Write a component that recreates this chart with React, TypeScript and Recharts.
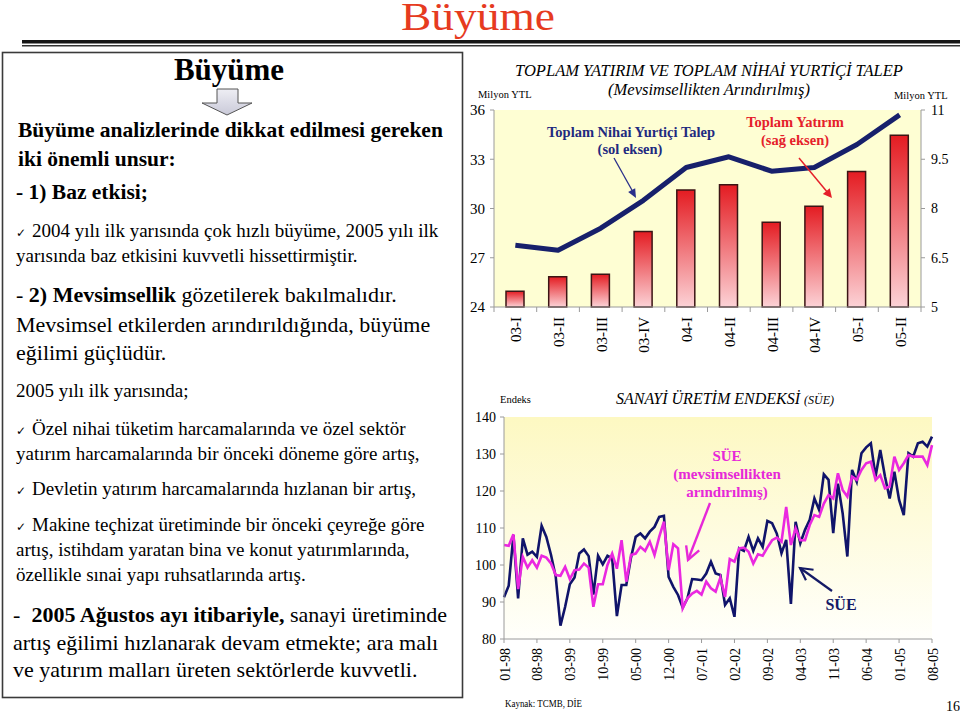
import React from 'react';
import { ComposedChart, LineChart, Bar, Line, XAxis, YAxis, CartesianGrid } from 'recharts';

const serif = "'Liberation Serif', 'Times New Roman', serif";

// üst grafik: çeyreklik veriler
const quarters = ['03-I', '03-II', '03-III', '03-IV', '04-I', '04-II', '04-III', '04-IV', '05-I', '05-II'];
const toplamYatirim = [5.48, 5.92, 6.0, 7.3, 8.56, 8.72, 7.58, 8.07, 9.13, 10.23]; // sağ eksen
const nihaiTalep = [27.76, 27.46, 28.8, 30.5, 32.5, 33.15, 32.27, 32.5, 33.9, 35.7]; // sol eksen
const leftTicks = [24, 27, 30, 33, 36];
const rightTicks = [5, 6.5, 8, 9.5, 11];

// alt grafik: aylık SÜE, 01-98 .. 08-05
const sueTicks = ['01-98', '08-98', '03-99', '10-99', '05-00', '12-00', '07-01', '02-02', '09-02', '04-03', '11-03', '06-04', '01-05', '08-05'];
const sue = [
  91.3, 94.4, 108.1, 91, 107.2, 102.8, 103.6, 102.2, 110.6, 107.6, 102.7, 96.8,
  83.6, 88.7, 94.8, 96.6, 103.1, 104.2, 102.4, 92, 102.5, 100.2, 102.5, 101.8,
  86.2, 94.6, 94.6, 102, 107.6, 108.5, 107.2, 109, 110.3, 113, 113.3, 96.8,
  94.1, 91.9, 88.5, 91, 96.2, 96.1, 95.9, 97.7, 100.9, 97.7, 97.3, 89.2,
  91, 86, 104.5, 103.8, 107.6, 103.8, 107.2, 104.9, 111.9, 111.3, 108.5, 103.2,
  106.8, 89.5, 111.7, 105.9, 109.5, 112.2, 118, 114.9, 124.5, 123, 108.6, 122,
  114, 102.3, 125.7, 122.5, 130.2, 131.8, 132.9, 123.9, 131.1, 123.9, 118, 125.2,
  117.6, 113.5, 130.2, 129.3, 132.9, 133.3, 132, 134.7,
];
const sueMevsim = [
  105.4, 105.2, 108.3, 93.5, 102.2, 99.3, 101.3, 99.3, 102.5, 102, 100.4, 97.3,
  97.1, 99.5, 96.2, 98.6, 98.8, 100.4, 99.3, 88.7, 94.8, 94.8, 100, 103.1,
  99, 106.7, 95.5, 102.7, 103.1, 104.9, 103.8, 106.3, 102.7, 107.6, 111.7, 98.6,
  105.6, 104.5, 88.3, 91, 92.3, 93, 92, 95.5, 93.7, 92.8, 96.6, 91.4,
  101.6, 100.9, 104.5, 104.7, 103.6, 100.4, 102.9, 102.5, 104.7, 106.7, 107.4, 106.3,
  115.7, 105.4, 109.9, 106.7, 106.7, 110.8, 113.5, 113, 116.6, 118.9, 118, 124.8,
  120.3, 118.5, 123.9, 123, 125.7, 127.5, 127.9, 123, 124.3, 120.7, 121.2, 129.3,
  125.7, 127.5, 129.7, 129.3, 129.3, 129.3, 127, 132.4,
];
const sueY = [80, 90, 100, 110, 120, 130, 140];

const months: string[] = [];
for (let y = 1998; y <= 2005; y++) {
  for (let m = 1; m <= 12; m++) {
    if (y === 2005 && m > 8) break;
    months.push(`${String(m).padStart(2, '0')}-${String(y % 100).padStart(2, '0')}`);
  }
}

const qData = quarters.map((q, i) => ({ q, yatirim: toplamYatirim[i], talep: nihaiTalep[i] }));
const mData = months.map((m, i) => ({ m, sue: sue[i], sueMa: sueMevsim[i] }));

const TOP_PLOT_W = 427;
const BAND = TOP_PLOT_W / quarters.length;
const axisGray = '#9a9a9a';

const QuarterTick = (props: any) => {
  const { x, y, payload, index } = props;
  return (
    <g>
      {index === 0 && <line x1={x - BAND / 2} y1={y} x2={x - BAND / 2} y2={y + 5} stroke={axisGray} />}
      <line x1={x + BAND / 2} y1={y} x2={x + BAND / 2} y2={y + 5} stroke={axisGray} />
      <text transform={`translate(${x + 1},${y + 10}) rotate(-90)`} textAnchor="end" dominantBaseline="central"
        fontSize={15} fontFamily={serif} fill="#000">{payload.value}</text>
    </g>
  );
};

const MonthTick = (props: any) => {
  const { x, y, payload } = props;
  return (
    <text transform={`translate(${x + 1},${y}) rotate(-90)`} textAnchor="end" dominantBaseline="central"
      fontSize={14} fontFamily={serif} fill="#000">{payload.value}</text>
  );
};

const headPts = (x1: number, y1: number, x2: number, y2: number, len: number, w: number) => {
  const dx = x2 - x1, dy = y2 - y1, d = Math.hypot(dx, dy);
  const ux = dx / d, uy = dy / d;
  const bx = x2 - ux * len, by = y2 - uy * len;
  return `${bx - uy * w},${by + ux * w} ${x2},${y2} ${bx + uy * w},${by - ux * w}`;
};

const check = (x: number, y: number) => (
  <text x={x} y={y} fontSize={12} fontFamily="'DejaVu Sans', sans-serif" fill="#000">✓</text>
);

const LeftPanel = () => (
  <svg width={470} height={717} style={{ position: 'absolute', left: 0, top: 0 }}>
    <defs>
      <linearGradient id="blockArrow" x1="0" y1="0" x2="0" y2="1">
        <stop offset="0%" stopColor="#eeeef4" />
        <stop offset="100%" stopColor="#c9c9d8" />
      </linearGradient>
    </defs>
    <rect x={2.5} y={52.5} width={460} height={645} fill="none" stroke="#3a3a3a" strokeWidth={1.6} />
    <text x={229} y={80} textAnchor="middle" fontSize={31} fontWeight="bold" fontFamily={serif}>Büyüme</text>
    <polygon points="217,89 238,89 238,103 252,103 227,115 202,103 217,103" fill="url(#blockArrow)" stroke="#555" strokeWidth={1} />
    <g fontFamily={serif} fill="#000">
      <text x={18} y={137} fontSize={21.5} fontWeight="bold">Büyüme analizlerinde dikkat edilmesi gereken</text>
      <text x={18} y={165.5} fontSize={21.5} fontWeight="bold">iki önemli unsur:</text>
      <text x={16} y={199} fontSize={21.5} fontWeight="bold">- 1) Baz etkisi;</text>
      {check(16, 236.5)}
      <text x={32} y={236.5} fontSize={19}>2004 yılı ilk yarısında çok hızlı büyüme, 2005 yılı ilk</text>
      <text x={16} y={261.5} fontSize={19}>yarısında baz etkisini kuvvetli hissettirmiştir.</text>
      <text x={16} y={301.5} fontSize={22}>- <tspan fontWeight="bold">2) Mevsimsellik</tspan> gözetilerek bakılmalıdır.</text>
      <text x={16} y={331.5} fontSize={22}>Mevsimsel etkilerden arındırıldığında, büyüme</text>
      <text x={16} y={360} fontSize={22}>eğilimi güçlüdür.</text>
      <text x={16} y={396.5} fontSize={19}>2005 yılı ilk yarısında;</text>
      {check(16, 434.5)}
      <text x={32} y={434.5} fontSize={19}>Özel nihai tüketim harcamalarında ve özel sektör</text>
      <text x={16} y={459.5} fontSize={19}>yatırım harcamalarında bir önceki döneme göre artış,</text>
      {check(16, 495)}
      <text x={32} y={495} fontSize={19}>Devletin yatırım harcamalarında hızlanan bir artış,</text>
      {check(16, 531)}
      <text x={32} y={531} fontSize={19}>Makine teçhizat üretiminde bir önceki çeyreğe göre</text>
      <text x={16} y={556} fontSize={19}>artış, istihdam yaratan bina ve konut yatırımlarında,</text>
      <text x={16} y={581} fontSize={19}>özellikle sınai yapı ruhsatlarında artış.</text>
      <text x={13} y={622} fontSize={22}>-</text>
      <text x={31.5} y={622} fontSize={22}><tspan fontWeight="bold">2005 Ağustos ayı itibariyle,</tspan> sanayi üretiminde</text>
      <text x={13} y={650} fontSize={22}>artış eğilimi hızlanarak devam etmekte; ara malı</text>
      <text x={13} y={677} fontSize={22}>ve yatırım malları üreten sektörlerde kuvvetli.</text>
    </g>
  </svg>
);

const Overlay = () => (
  <svg width={960} height={717} style={{ position: 'absolute', left: 0, top: 0, pointerEvents: 'none' }}>
    <text x={401} y={30} fontSize={39} textLength={154} lengthAdjust="spacingAndGlyphs" fontFamily={serif} fill="#e63b1f">Büyüme</text>
    <rect x={22} y={40} width={938} height={3.5} fill="#151515" />
    <rect x={22} y={45} width={938} height={1.5} fill="#333" />

    <g fontFamily={serif}>
      <text x={709} y={76} textAnchor="middle" fontSize={16.5} fontStyle="italic">TOPLAM YATIRIM VE TOPLAM NİHAİ YURTİÇİ TALEP</text>
      <text x={709} y={95} textAnchor="middle" fontSize={16.5} fontStyle="italic">(Mevsimsellikten Arındırılmış)</text>
      <text x={478} y={98} fontSize={10.5}>Milyon YTL</text>
      <text x={894} y={99} fontSize={10.5}>Milyon YTL</text>
      <text x={631} y={136.5} textAnchor="middle" fontSize={14.5} fontWeight="bold" fill="#1f2a80">Toplam Nihai Yurtiçi Talep</text>
      <text x={630} y={154} textAnchor="middle" fontSize={14.5} fontWeight="bold" fill="#1f2a80">(sol eksen)</text>
      <text x={795} y={126.5} textAnchor="middle" fontSize={14.5} fontWeight="bold" fill="#e5202a">Toplam Yatırım</text>
      <text x={795} y={145} textAnchor="middle" fontSize={14.5} fontWeight="bold" fill="#e5202a">(sağ eksen)</text>
    </g>
    <line x1={614} y1={158} x2={633} y2={192} stroke="#2a2f8a" strokeWidth={1.3} />
    <polygon points={headPts(614, 158, 636, 198, 9, 4)} fill="#2a2f8a" />
    <line x1={799} y1={158} x2={828} y2={193} stroke="#e5202a" strokeWidth={1.5} />
    <polygon points={headPts(799, 158, 832, 198, 9, 4.5)} fill="#e5202a" />

    <g fontFamily={serif}>
      <text x={500} y={403} fontSize={10.5}>Endeks</text>
      <text x={725} y={404} textAnchor="middle" fontStyle="italic" fontSize={16}>SANAYİ ÜRETİM ENDEKSİ <tspan fontSize={12}>(SÜE)</tspan></text>
      <text x={727} y={461} textAnchor="middle" fontSize={15} fontWeight="bold" fill="#e628d8">SÜE</text>
      <text x={727} y={479} textAnchor="middle" fontSize={15} fontWeight="bold" fill="#e628d8">(mevsimsellikten</text>
      <text x={727} y={497} textAnchor="middle" fontSize={15} fontWeight="bold" fill="#e628d8">arındırılmış)</text>
      <text x={841} y={610} textAnchor="middle" fontSize={16} fontWeight="bold" fill="#141a66">SÜE</text>
    </g>
    <line x1={710} y1={503} x2={688} y2={560} stroke="#e628d8" strokeWidth={2.4} />
    <polyline points={headPts(710, 503, 688, 560, 13, 7)} fill="none" stroke="#e628d8" strokeWidth={2.4} />
    <line x1={832} y1={591} x2={800} y2={568} stroke="#141a66" strokeWidth={2.2} />
    <polyline points={headPts(832, 591, 800, 568, 12, 6.5)} fill="none" stroke="#141a66" strokeWidth={2.2} />

    <g fontFamily={serif}>
      <text x={505} y={707} fontSize={10.5} textLength={77} lengthAdjust="spacingAndGlyphs">Kaynak: TCMB, DİE</text>
      <text x={946} y={711} fontSize={14}>16</text>
    </g>
  </svg>
);

export default function App() {
  return (
    <div style={{ position: 'absolute', left: 0, top: 0, width: 960, height: 717, background: '#fff', overflow: 'hidden', fontFamily: serif }}>
      <LeftPanel />
      <div style={{ position: 'absolute', left: 460, top: 50 }}>
        <ComposedChart width={500} height={330} data={qData} margin={{ top: 60, right: 0, bottom: 0, left: 0 }}>
          <defs>
            <linearGradient id="barFill" x1="0" y1="0" x2="0" y2="1">
              <stop offset="0%" stopColor="#e41c22" />
              <stop offset="100%" stopColor="#fcd2d6" />
            </linearGradient>
          </defs>
          <CartesianGrid yAxisId="l" horizontal={false} vertical={false} fill="#fefed3" stroke="none" />
          <XAxis dataKey="q" height={73} interval={0} tickSize={0} tickMargin={0} tickLine={false}
            axisLine={{ stroke: axisGray }} tick={<QuarterTick />} />
          <YAxis yAxisId="l" orientation="left" width={34} domain={[24, 36]} ticks={leftTicks} interval={0}
            tickSize={4} tickMargin={5} axisLine={{ stroke: axisGray }} tickLine={{ stroke: axisGray }}
            tick={{ fontSize: 15, fill: '#000', fontFamily: serif }} />
          <YAxis yAxisId="r" orientation="right" width={39} domain={[5, 11]} ticks={rightTicks} interval={0}
            tickSize={4} tickMargin={6} axisLine={{ stroke: axisGray }} tickLine={{ stroke: axisGray }}
            tick={{ fontSize: 14, fill: '#000', fontFamily: serif }} />
          <Bar yAxisId="r" dataKey="yatirim" barSize={18} fill="url(#barFill)" stroke="#3b1515" strokeWidth={1.5}
            isAnimationActive={false} />
          <Line yAxisId="l" dataKey="talep" type="linear" stroke="#17206b" strokeWidth={5} dot={false}
            strokeLinejoin="round" isAnimationActive={false} />
        </ComposedChart>
      </div>
      <div style={{ position: 'absolute', left: 465, top: 385 }}>
        <LineChart width={495} height={330} data={mData} margin={{ top: 32, right: 28, bottom: 0, left: 0 }}>
          <defs>
            <linearGradient id="sueBg" x1="0" y1="0" x2="0" y2="1">
              <stop offset="0%" stopColor="#fdf8c2" />
              <stop offset="100%" stopColor="#fffffb" />
            </linearGradient>
          </defs>
          <CartesianGrid horizontal={false} vertical={false} fill="url(#sueBg)" stroke="none" />
          <XAxis dataKey="m" height={76} interval={6} tickSize={4} tickMargin={5}
            axisLine={{ stroke: axisGray }} tickLine={{ stroke: axisGray }} tick={<MonthTick />} />
          <YAxis width={39} domain={[80, 140]} ticks={sueY} interval={0} tickSize={4} tickMargin={4}
            axisLine={{ stroke: axisGray }} tickLine={{ stroke: axisGray }}
            tick={{ fontSize: 14, fill: '#000', fontFamily: serif }} />
          <Line dataKey="sue" type="linear" stroke="#10146a" strokeWidth={2.6} dot={false} isAnimationActive={false} />
          <Line dataKey="sueMa" type="linear" stroke="#ea28e0" strokeWidth={2.6} dot={false} isAnimationActive={false} />
        </LineChart>
      </div>
      <Overlay />
    </div>
  );
}
